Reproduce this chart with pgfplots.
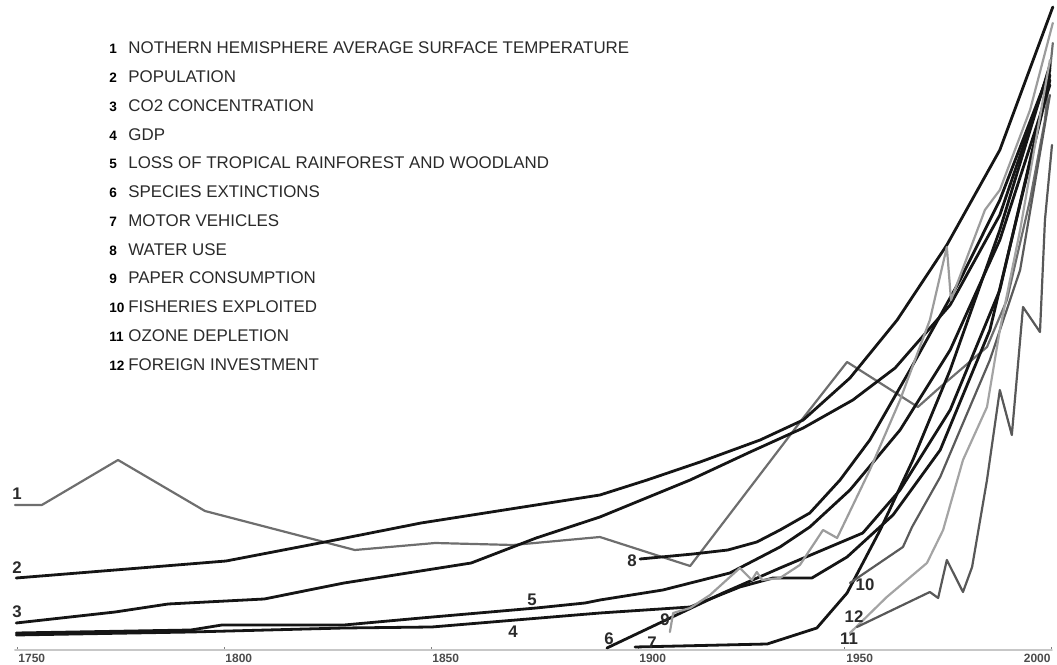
\documentclass[border=0pt]{standalone}
\usepackage{fontspec}
\setmainfont{Liberation Sans}
\usepackage{pgfplots}
\pgfplotsset{compat=1.18}
\definecolor{blk}{HTML}{151515}
\definecolor{g1}{HTML}{6E6E6E}
\definecolor{g9}{HTML}{9C9C9C}
\definecolor{g10}{HTML}{5A5A5A}
\definecolor{g11}{HTML}{A4A4A4}
\definecolor{g12}{HTML}{585858}
\definecolor{txt}{HTML}{2A2A2A}
\begin{document}
\begin{tikzpicture}
\begin{axis}[
  scale only axis, width=528.5pt, height=325pt,
  xmin=1745.89, xmax=2001.21, ymin=15, ymax=665,
  axis line style={draw=none},
  ytick=\empty,
  xtick={1750,1800,1850,1900,1950},
  extra x ticks={2000},
  extra x tick style={xticklabel style={anchor=north east, xshift=-1pt}},
  xtick pos=bottom, tick align=inside, major tick length=1.5pt,
  tick style={draw=gray, line width=0.5pt},
  xticklabel={\pgfmathparse{int(\tick)}\pgfmathresult},
  xticklabel style={anchor=north west, inner sep=0pt, yshift=-1.8pt, xshift=0.5pt,
    font=\bfseries\fontsize{6}{7}\selectfont, text=black!70},
  clip=false,
  every axis plot/.append style={no markers, line join=round, line cap=round},
]
% baseline
\addplot[draw=black!22, line width=0.9pt] coordinates {(1749.5,15) (2000,15)};
% 1 temperature
\addplot[g1, line width=1.1pt] coordinates {
(1749.5,160) (1756.0,160) (1774.4,205) (1795.4,154) (1831.6,115) (1851.0,122)
(1869.8,120) (1890.8,128) (1912.6,99) (1939.9,247) (1950.5,303) (1967.6,258)
(1972.2,275) (1984.3,318) (1989.1,365) (1994.7,465) (1998.3,545) (2000.2,622)};
% 2 population
\addplot[blk, line width=1.4pt] coordinates {
(1749.8,87) (1773.7,95) (1800.5,104) (1824.4,123) (1847.6,142) (1890.8,170)
(1902.2,185) (1915.0,203) (1929.5,225) (1939.9,245) (1951.2,287) (1962.6,345)
(1974.6,420) (1987.4,515) (2000.2,658)};
% 3 CO2
\addplot[blk, line width=1.4pt] coordinates {
(1749.8,42) (1773.7,53) (1786.5,61) (1809.7,66) (1829.0,82) (1859.7,102)
(1875.4,127) (1890.8,148) (1912.6,185) (1927.1,213) (1939.9,237) (1951.9,265)
(1962.1,297) (1975.4,360) (1987.4,450) (1999.5,597)};
% 4 GDP
\addplot[blk, line width=1.4pt] coordinates {
(1749.8,30) (1792.0,33) (1829.0,37) (1850.2,38) (1890.8,52) (1912.6,58)
(1924.6,78) (1932.6,87) (1942.0,87) (1950.5,108) (1961.6,150) (1973.0,215)
(1985.0,335) (1999.5,585)};
% 5 rainforest
\addplot[blk, line width=1.4pt] coordinates {
(1749.8,32) (1792.0,35) (1799.5,40) (1829.0,40) (1847.6,47) (1875.4,57)
(1887.2,62) (1890.8,65) (1906.0,75) (1922.2,92) (1934.3,118) (1941.5,138)
(1951.2,175) (1963.3,235) (1975.4,315) (1987.4,425) (1999.5,580)};
% 6 species
\addplot[blk, line width=1.4pt] coordinates {
(1892.5,17) (1920.5,72) (1934.3,97) (1954.3,132) (1963.3,175) (1975.4,255)
(1987.4,375) (1999.5,590)};
% 7 motor vehicles
\addplot[blk, line width=1.4pt] coordinates {
(1899.3,18) (1931.2,21) (1943.2,37) (1950.5,72) (1958.5,135) (1966.4,205)
(1975.4,295) (1987.4,435) (1999.5,600)};
% 8 water use
\addplot[blk, line width=1.4pt] coordinates {
(1900.5,106) (1913.3,111) (1921.7,115) (1928.7,123) (1934.3,135) (1941.5,152)
(1948.8,185) (1956.0,225) (1965.7,295) (1977.8,385) (1987.4,465) (1999.5,595)};
% 9 paper
\addplot[g9, line width=1.1pt] coordinates {
(1907.7,33) (1908.5,52) (1912.6,57) (1917.4,70) (1924.6,97) (1927.5,85)
(1928.7,93) (1930.0,85) (1934.3,87) (1939.1,100) (1944.7,135) (1948.1,127)
(1956.0,195) (1963.3,265) (1970.5,345) (1974.6,418) (1975.6,365) (1983.8,455)
(1987.4,475) (1994.7,555) (2000.2,642)};
% 10 fisheries
\addplot[g10, line width=1.1pt] coordinates {
(1951.2,82) (1964.0,118) (1966.2,138) (1973.0,188) (1977.8,235) (1985.0,305)
(1992.3,395) (1999.5,570)};
% 11 ozone
\addplot[g11, line width=1.1pt] coordinates {
(1951.2,32) (1960.1,68) (1969.8,102) (1973.7,135) (1978.5,205) (1984.3,258)
(1987.4,335) (1992.3,435) (1999.5,605)};
% 12 foreign investment
\addplot[g12, line width=1.1pt] coordinates {
(1952.9,38) (1970.5,73) (1972.5,67) (1974.6,105) (1978.5,73) (1980.7,98)
(1984.3,185) (1987.4,275) (1990.3,230) (1993.0,358) (1997.1,333) (1998.3,445)
(2000.0,520)};
\end{axis}
% series labels
\begin{scope}[every node/.style={font=\bfseries\fontsize{8.4}{10}\selectfont, text=txt, inner sep=0pt}]
\node at (8.5pt,78pt) {1};
\node at (8.5pt,41pt) {2};
\node at (8.5pt,19pt) {3};
\node at (256.5pt,9pt) {4};
\node at (266pt,25pt) {5};
\node at (304.5pt,5.5pt) {6};
\node at (326pt,3.5pt) {7};
\node at (316pt,44.5pt) {8};
\node at (332.5pt,15pt) {9};
\node at (432.5pt,32.5pt) {10};
\node at (424.5pt,5.5pt) {11};
\node at (427pt,16.5pt) {12};
\end{scope}
% legend text
\begin{scope}[every node/.style={anchor=base west, inner sep=0pt, text=txt, font=\fontsize{8.45}{10}\selectfont}]
\foreach \n/\t [count=\i from 0] in {1/NOTHERN HEMISPHERE AVERAGE SURFACE TEMPERATURE, 2/POPULATION, 3/CO2 CONCENTRATION, 4/GDP, 5/LOSS OF TROPICAL RAINFOREST AND WOODLAND, 6/SPECIES EXTINCTIONS, 7/MOTOR VEHICLES, 8/WATER USE, 9/PAPER CONSUMPTION, 10/FISHERIES EXPLOITED, 11/OZONE DEPLETION, 12/FOREIGN INVESTMENT} {
  \node[font=\bfseries\fontsize{6.8}{9}\selectfont, text=black] at (54.5pt, 298pt-\i*14.365pt) {\n};
  \node at (64pt, 298pt-\i*14.365pt) {\t};
}
\end{scope}
\pgfresetboundingbox
\path (0,-7.5pt) rectangle (528.5pt,325pt);
\end{tikzpicture}
\end{document}
